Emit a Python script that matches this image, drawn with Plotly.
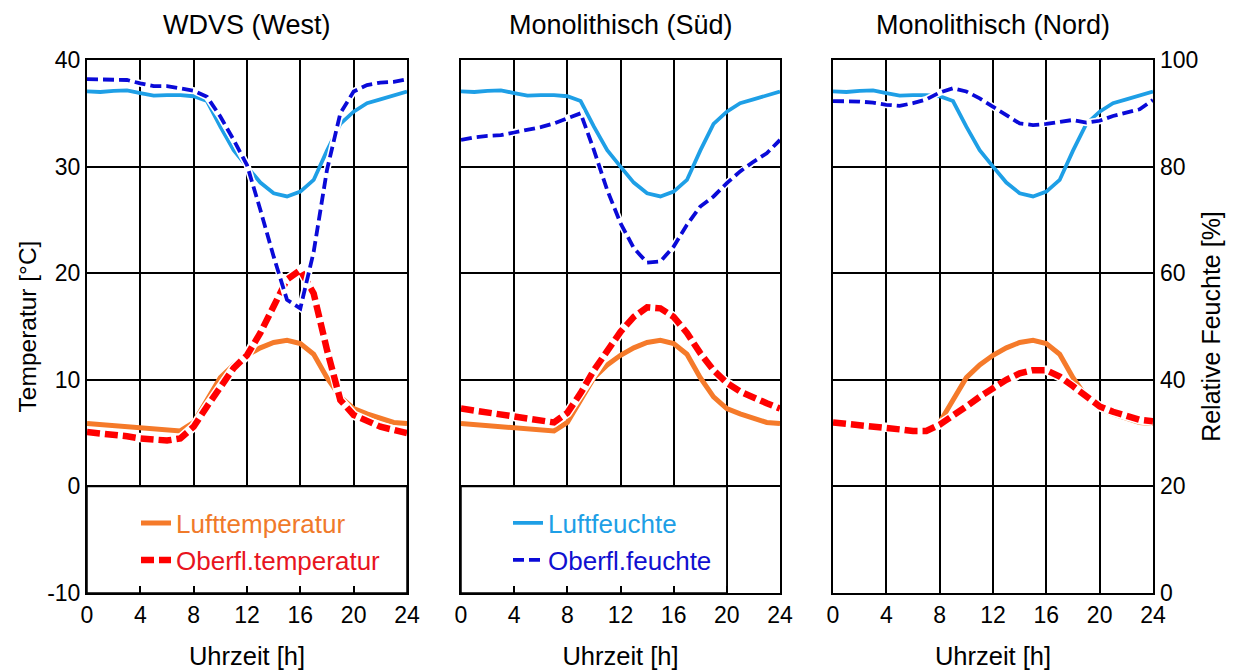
import plotly.graph_objects as go
from plotly.subplots import make_subplots

# ---------------- data ----------------
hours = list(range(25))
panel_titles = ["WDVS (West)", "Monolithisch (Süd)", "Monolithisch (Nord)"]
x_ticks = [0, 4, 8, 12, 16, 20, 24]
temp_ticks = [-10, 0, 10, 20, 30, 40]
temp_tick_labels = ["-10", "0", "10", "20", "30", "40"]
rh_ticks = [0, 20, 40, 60, 80, 100]

# outdoor air (same in all three panels)
air_temp = [5.9, 5.8, 5.6, 5.5, 5.4, 5.3, 5.2, 5.2, 6.0, 8.2, 10.2, 11.4, 12.3,
            13.0, 13.5, 13.7, 13.4, 12.4, 10.2, 8.4, 7.3, 6.8, 6.4, 6.0, 5.9]
air_rh = [94.1, 94.0, 94.2, 94.3, 93.8, 93.3, 93.4, 93.4, 93.2, 92.3, 87.5, 83.1, 80.0,
          77.0, 75.0, 74.4, 75.3, 77.5, 83.0, 88.0, 90.3, 91.9, 92.6, 93.3, 94.1]

# surface values, WDVS (West)
surf_temp_west = [5.1, 5.0, 4.8, 4.7, 4.5, 4.4, 4.3, 4.5, 5.6, 7.5, 9.4, 11.1, 12.3,
                  14.4, 16.9, 19.4, 20.3, 18.1, 12.8, 8.1, 6.7, 6.1, 5.6, 5.3, 5.0]
surf_rh_west = [96.4, 96.3, 96.3, 96.25, 95.6, 95.1, 95.1, 94.7, 94.25, 93.1, 89.4, 85.0, 80.3,
                71.9, 63.1, 55.0, 53.4, 64.0, 79.4, 90.0, 94.1, 95.3, 95.75, 95.9, 96.4]

# surface values, Monolithisch (Süd)
surf_temp_sued = [7.3, 7.1, 6.9, 6.75, 6.6, 6.35, 6.1, 6.0, 6.9, 8.75, 10.9, 12.8, 14.5,
                  15.9, 16.8, 16.7, 15.9, 14.4, 12.5, 10.9, 9.7, 8.9, 8.3, 7.8, 7.3]
surf_rh_sued = [85.0, 85.5, 85.75, 85.9, 86.4, 86.9, 87.4, 88.1, 89.1, 90.0, 83.1, 75.6, 69.4,
                64.7, 62.0, 62.2, 65.0, 69.1, 72.5, 74.4, 76.9, 79.1, 80.9, 82.5, 85.0]

# surface values, Monolithisch (Nord)
surf_temp_nord = [6.0, 5.9, 5.8, 5.65, 5.5, 5.35, 5.2, 5.2, 5.8, 6.6, 7.5, 8.4, 9.2,
                  10.0, 10.6, 10.9, 10.9, 10.3, 9.4, 8.4, 7.5, 7.0, 6.6, 6.25, 6.1]
surf_rh_nord = [92.3, 92.3, 92.2, 92.0, 91.6, 91.4, 91.9, 92.6, 93.9, 94.7, 94.1, 92.8, 91.25,
                89.7, 88.1, 87.8, 88.0, 88.4, 88.75, 88.25, 88.6, 89.5, 90.1, 90.75, 92.5]

surf_temps = [surf_temp_west, surf_temp_sued, surf_temp_nord]
surf_rhs = [surf_rh_west, surf_rh_sued, surf_rh_nord]

# ---------------- style ----------------
FONT = "Liberation Sans, Arial, Helvetica, sans-serif"
C_AIR_T = "#F57A2A"
C_SURF_T = "#FF0000"
C_AIR_RH = "#1E9FE6"
C_SURF_RH = "#0A0AD8"

# page has an 8px body margin -> figure is 8px smaller, margins 8px smaller
FIG_W, FIG_H = 1234, 663
M_L, M_R, M_T, M_B = 79, 89, 52, 78
W_PLOT = FIG_W - M_L - M_R
H_PLOT = FIG_H - M_T - M_B
domains = [[0, 320 / W_PLOT], [374 / W_PLOT, 693 / W_PLOT], [746 / W_PLOT, 1.0]]

fig = make_subplots(rows=1, cols=3, specs=[[{"secondary_y": True}] * 3],
                    horizontal_spacing=0.05, subplot_titles=panel_titles)

for i in range(3):
    col = i + 1
    fig.add_trace(go.Scatter(x=hours, y=air_temp, mode="lines", name="Lufttemperatur",
                             line=dict(color=C_AIR_T, width=5), legend="legend",
                             showlegend=(i == 0)), row=1, col=col, secondary_y=False)
    fig.add_trace(go.Scatter(x=hours, y=surf_temps[i], mode="lines", showlegend=False,
                             hoverinfo="skip", line=dict(color="white", width=9.5)),
                  row=1, col=col, secondary_y=False)
    fig.add_trace(go.Scatter(x=hours, y=surf_temps[i], mode="lines", name="Oberfl.temperatur",
                             line=dict(color=C_SURF_T, width=6.5, dash="13px,5px"),
                             legend="legend2", showlegend=(i == 0)),
                  row=1, col=col, secondary_y=False)
    fig.add_trace(go.Scatter(x=hours, y=air_rh, mode="lines", name="Luftfeuchte",
                             line=dict(color=C_AIR_RH, width=3.8), legend="legend3",
                             showlegend=(i == 1)), row=1, col=col, secondary_y=True)
    fig.add_trace(go.Scatter(x=hours, y=surf_rhs[i], mode="lines", showlegend=False,
                             hoverinfo="skip", line=dict(color="white", width=7)),
                  row=1, col=col, secondary_y=True)
    fig.add_trace(go.Scatter(x=hours, y=surf_rhs[i], mode="lines", name="Oberfl.feuchte",
                             line=dict(color=C_SURF_RH, width=3.8, dash="11px,5px"),
                             legend="legend4", showlegend=(i == 1)),
                  row=1, col=col, secondary_y=True)

axis_common = dict(showline=True, linecolor="black", linewidth=2, mirror=True,
                   zeroline=False, automargin=False)

fig.update_xaxes(range=[0, 24], tickvals=x_ticks, showgrid=True, gridcolor="black",
                 gridwidth=1.5, ticks="inside", ticklen=7, tickwidth=1.5, tickcolor="black",
                 tickfont=dict(family=FONT, size=23, color="black"),
                 title=dict(text="Uhrzeit [h]", font=dict(family=FONT, size=25.5, color="black"),
                            standoff=21),
                 **axis_common)

for i in range(3):
    col = i + 1
    fig.update_yaxes(range=[-10, 40], tickvals=temp_ticks, ticktext=temp_tick_labels,
                     showgrid=True, gridcolor="black",
                     gridwidth=1.5, ticks="", showticklabels=(i == 0),
                     tickfont=dict(family=FONT, size=23, color="black"),
                     title=dict(text="Temperatur [°C]" if i == 0 else "",
                                font=dict(family=FONT, size=24.5, color="black"), standoff=4),
                     row=1, col=col, secondary_y=False, **axis_common)
    fig.update_yaxes(range=[0, 100], tickvals=rh_ticks, showgrid=False, ticks="",
                     showticklabels=(i == 2), showline=False, zeroline=False, automargin=False,
                     ticklabelstandoff=6,
                     tickfont=dict(family=FONT, size=23, color="black"),
                     title=dict(text="Relative Feuchte [%]" if i == 2 else "",
                                font=dict(family=FONT, size=25, color="black"), standoff=5),
                     row=1, col=col, secondary_y=True)

fig.update_layout(xaxis=dict(domain=domains[0]), xaxis2=dict(domain=domains[1]),
                  xaxis3=dict(domain=domains[2]))

# white legend boxes covering the grid below 0 °C
fig.add_shape(type="rect", xref="x", yref="y", x0=0, x1=24, y0=-10, y1=0,
              fillcolor="white", line=dict(color="black", width=1.5), layer="between")
fig.add_shape(type="rect", xref="x2", yref="y3", x0=0, x1=20, y0=-10, y1=0,
              fillcolor="white", line=dict(color="black", width=1.5), layer="between")

for ann, dom in zip(fig.layout.annotations, domains):
    ann.font = dict(family=FONT, size=27, color="black")
    ann.x = (dom[0] + dom[1]) / 2
    ann.yshift = 18


def px_x(p):  # page pixel -> paper x
    return (p - 8 - M_L) / W_PLOT


def px_y(p):  # page pixel -> paper y
    return (FIG_H - M_B + 8 - p) / H_PLOT


leg_common = dict(xanchor="left", yanchor="middle", bgcolor="rgba(0,0,0,0)",
                  borderwidth=0, itemwidth=30)
fig.update_layout(
    width=FIG_W, height=FIG_H,
    margin=dict(l=M_L, r=M_R, t=M_T, b=M_B),
    paper_bgcolor="white", plot_bgcolor="white",
    font=dict(family=FONT, color="black"),
    legend=dict(x=px_x(136), y=px_y(523), font=dict(family=FONT, size=26, color="#F07A2A"),
                **leg_common),
    legend2=dict(x=px_x(136), y=px_y(560), font=dict(family=FONT, size=26, color="#E8141E"),
                 **leg_common),
    legend3=dict(x=px_x(508), y=px_y(523), font=dict(family=FONT, size=26, color="#1E9FE6"),
                 **leg_common),
    legend4=dict(x=px_x(508), y=px_y(560), font=dict(family=FONT, size=26, color="#1010D0"),
                 **leg_common),
)

fig.write_html("out.html")
